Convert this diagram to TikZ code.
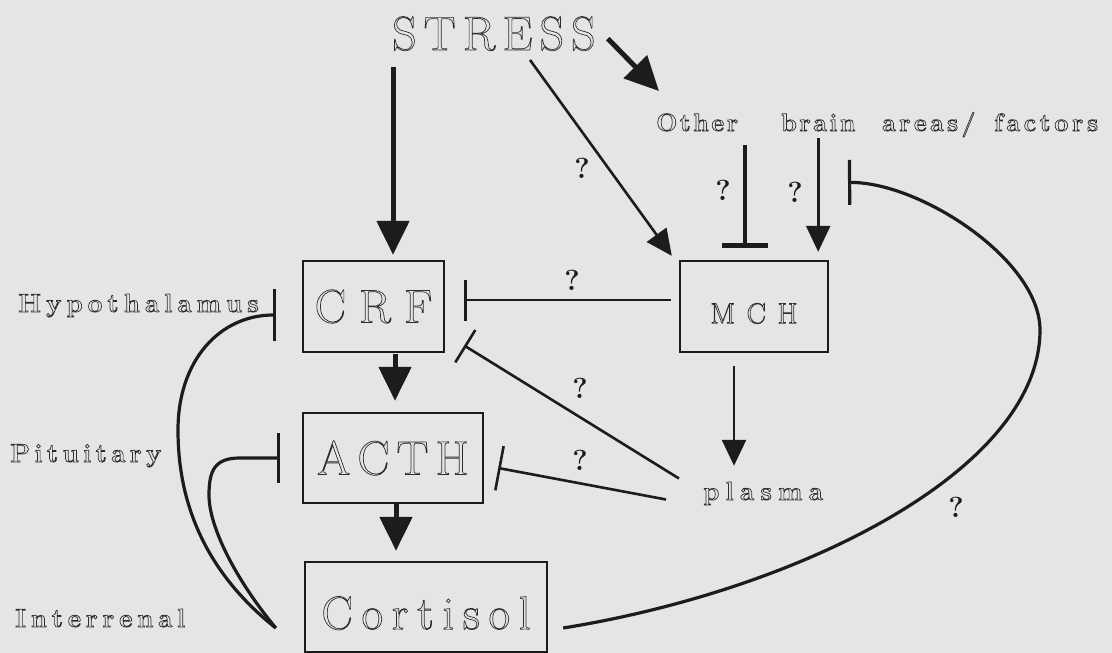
\documentclass[tikz,border=0pt]{standalone}
\usepackage{fontspec}
\usetikzlibrary{arrows.meta,calc}
\definecolor{bgc}{RGB}{229,229,229}
\definecolor{linec}{RGB}{28,28,28}
\definecolor{txtc}{RGB}{45,45,45}
\newcommand\olt[1]{\special{pdf:literal direct 1 Tr 0.7 w}#1\special{pdf:literal direct 0 Tr}}
\newcommand\fsz[1]{\fontsize{#1}{#1}\selectfont}
% manual letter spacing: \lsp{kern}{word}
\def\lsp#1#2{\def\lsk{\kern#1}\lsfirst#2\relax}
\def\lsfirst#1{#1\lsrest}
\def\lsrest#1{\ifx#1\relax\else\lsk#1\expandafter\lsrest\fi}
\tikzset{
  box/.style={draw=linec, line width=2.4pt, inner sep=0pt, text=txtc},
  bigarrow/.style={draw=linec, line width=5pt, -{Triangle[width=32pt,length=34pt]}},
  thinarrow/.style={draw=linec, line width=2.6pt, -{Triangle[width=24pt,length=26pt]}},
  inh/.style={draw=linec, line width=2.6pt, -{Bar[width=#1]}},
  thickinh/.style={draw=linec, line width=4.5pt, -{Bar[width=#1]}},
  curveinh/.style={draw=linec, line width=3.2pt, -{Bar[width=#1]}},
  lbl/.style={inner sep=0pt, text=txtc},
  qm/.style={inner sep=0pt, text=linec, font=\bfseries\fsz{29}}
}
\begin{document}
\begin{tikzpicture}[x=1pt, y=-1pt]
\useasboundingbox (0,0) rectangle (1112,653);
\fill[bgc] (0,0) rectangle (1112,653);

% text nodes
\node[lbl, anchor=base west] (stress) at (392,50) {\fsz{48}\olt{\lsp{7pt}{STRESS}}};
\node[lbl, anchor=base west] (other) at (656,131) {\fsz{25}\bfseries\olt{\makebox[125pt][l]{\lsp{2.5pt}{Other}}\makebox[101pt][l]{\lsp{2.5pt}{brain}}\makebox[112pt][l]{\lsp{3.3pt}{areas/}}\lsp{3.6pt}{factors}}};
\node[lbl, anchor=base west] (hypo) at (18,312) {\fsz{26}\bfseries\olt{\lsp{5pt}{Hypothalamus}}};
\node[lbl, anchor=base west] (pit) at (10,462) {\fsz{26}\bfseries\olt{\lsp{4.3pt}{Pituitary}}};
\node[lbl, anchor=base west] (inter) at (15,627) {\fsz{26}\bfseries\olt{\lsp{4.7pt}{Interrenal}}};
\node[lbl, anchor=base west] (plasma) at (703,500) {\fsz{26}\bfseries\olt{\lsp{6.2pt}{plasma}}};

% boxes
\node[box, minimum width=141pt, minimum height=91pt] (crf) at (373.5,306.5) {\fsz{47}\olt{\lsp{13pt}{CRF}}};
\node[box, minimum width=180pt, minimum height=90pt] (acth) at (393,458) {\fsz{48}\olt{\lsp{7pt}{ACTH}}};
\node[box, minimum width=242pt, minimum height=90pt] (cortisol) at (426,607) {\fsz{47}\raisebox{-6pt}[0.69em][0pt]{\olt{\lsp{8.7pt}{Cortisol}}}};
\node[box, minimum width=148pt, minimum height=91pt] (mch) at (754,306.5) {\fsz{29}\raisebox{-7pt}[0.68em][0pt]{\olt{\lsp{11.5pt}{MCH}}}};

% question marks
\node[qm] (q1) at (582,168) {?};
\node[qm] (q2) at (723,190) {?};
\node[qm] (q3) at (795,192) {?};
\node[qm] (q4) at (572,280) {?};
\node[qm] (q5) at (580,388) {?};
\node[qm] (q6) at (580,460) {?};
\node[qm] (q7) at (956,507) {?};

% connectors from STRESS
\draw[bigarrow] ($(stress.south west)+(1,16)$) -- ($(stress.south west |- crf.north)+(1,-5)$);
\draw[bigarrow] ($(stress.east)+(12,5)$) -- ($(other.north west)+(3,-21)$);
\draw[thinarrow] ($(stress.south west)+(138,9)$) -- ($(mch.north west)+(-7,-4)$);

% from other brain areas
\draw[thickinh=46pt] ($(mch.north |- other.south)+(-9,8)$) -- ($(mch.north)+(-9,-12)$);
\draw[thinarrow] ($(mch.north east |- other.south)+(-11,1)$) -- ($(mch.north east)+(-11,-8)$);

% MCH and plasma
\draw[inh=41pt] ($(mch.west)+(-8,-6.5)$) -- ($(crf.east)+(19,-6.5)$);
\draw[thinarrow] ($(mch.south)+(-20,13)$) -- ($(mch.south |- plasma.north)+(-20,-16)$);
\draw[inh=38pt] ($(plasma.west)+(-24,-15)$) -- ($(crf.east)+(19,39)$);
\draw[inh=45pt] ($(plasma.west)+(-37,6)$) -- ($(acth.east)+(14,10)$);

% main axis
\draw[bigarrow] (acth.north |- crf.south) ++(2,1) -- ($(acth.north)+(2,-11)$);
\draw[bigarrow] ($(acth.south)+(3,0)$) -- ($(acth.south |- cortisol.north)+(3,-10)$);

% cortisol feedback curves
\draw[curveinh=52pt] ($(cortisol.west)+(-28,21)$) .. controls (190,560) and (178,480) .. (178,430)
  .. controls (178,360) and (220,315) .. ($(crf.west)+(-26,8.5)$);
\draw[curveinh=50pt] ($(cortisol.west)+(-28,21)$) .. controls (240,585) and (209,530) .. (209,495)
  .. controls (209,470) and (215,458) .. (240,458) -- ($(acth.west)+(-22,0)$);
\draw[curveinh=45pt] ($(cortisol.east)+(15,21)$) .. controls (800,590) and (1040,470) .. (1040,330)
  .. controls (1040,260) and (920,182) .. ($(other.south west)+(192,45)$);
\end{tikzpicture}
\end{document}
